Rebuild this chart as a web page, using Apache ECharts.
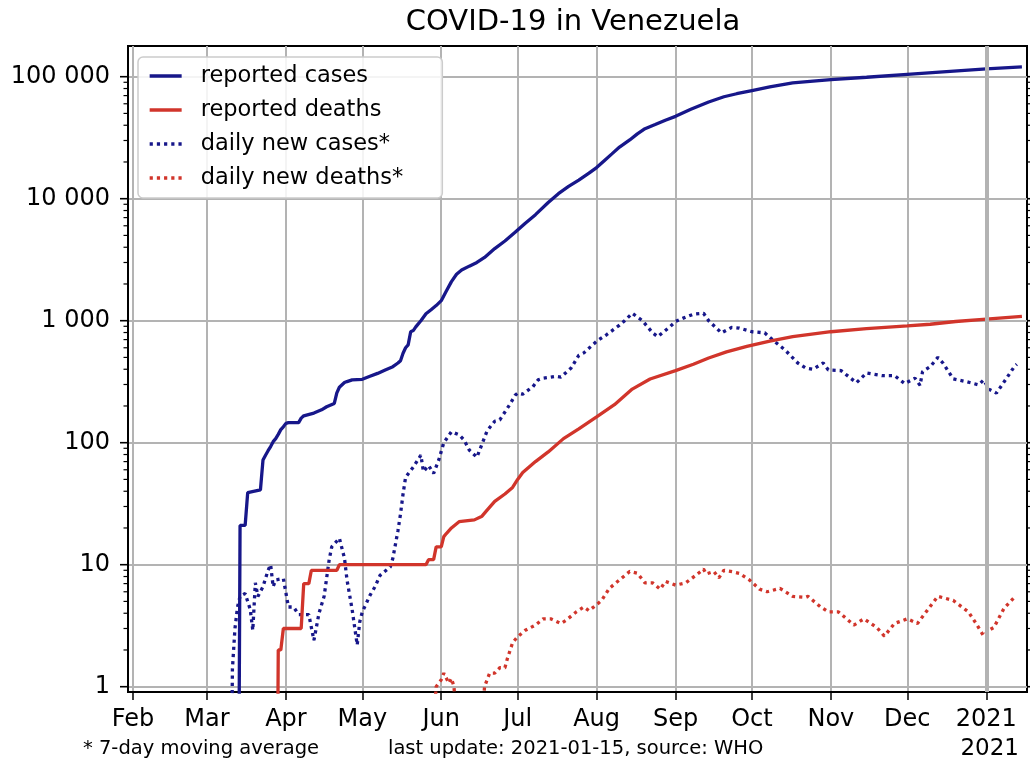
<!DOCTYPE html>
<html><head><meta charset="utf-8">
<script src="https://cdn.jsdelivr.net/npm/echarts@6/dist/echarts.min.js"></script>
<style>html,body{margin:0;padding:0;background:#fff}#c{width:1030px;height:762px}</style>
</head><body><div id="c"></div>
<script>
const FONT = 'DejaVu Sans';
const BLUE = '#17178a';
const RED = '#d1352b';
const GRID = '#b3b3b3';

const xStart = '2020-01-30';
const xEnd = '2021-01-17';
const monthStarts = ['2020-02-01','2020-03-01','2020-04-01','2020-05-01','2020-06-01','2020-07-01','2020-08-01','2020-09-01','2020-10-01','2020-11-01','2020-12-01','2021-01-01'];
const monthLabels = ['Feb','Mar','Apr','May','Jun','Jul','Aug','Sep','Oct','Nov','Dec','2021'];
const yMajorTicks = [1,10,100,1000,10000,100000];
const yTickLabels = ['1','10','100','1 000','10 000','100 000'];
const yMinorTicks = [2,3,4,5,6,7,8,9,20,30,40,50,60,70,80,90,200,300,400,500,600,700,800,900,2000,3000,4000,5000,6000,7000,8000,9000,20000,30000,40000,50000,60000,70000,80000,90000];

const reportedCases = [
['2020-03-13',0.001],['2020-03-14',21],['2020-03-16',21],['2020-03-17',39],['2020-03-22',41],['2020-03-23',72],['2020-03-24',79],['2020-03-25',86],['2020-03-26',93],['2020-03-27',102],['2020-03-28',108],['2020-03-29',117],['2020-03-30',128],['2020-03-31',135],['2020-04-01',144],['2020-04-02',146],['2020-04-06',146],['2020-04-07',159],['2020-04-08',166],['2020-04-12',175],['2020-04-15',186],['2020-04-17',197],['2020-04-20',210],['2020-04-21',256],['2020-04-22',285],['2020-04-24',311],['2020-04-25',317],['2020-04-27',327],['2020-05-01',331],['2020-05-04',350],['2020-05-07',370],['2020-05-10',395],['2020-05-13',420],['2020-05-15',450],['2020-05-16',470],['2020-05-17',541],['2020-05-18',600],['2020-05-19',634],['2020-05-20',812],['2020-05-21',830],['2020-05-22',890],['2020-05-24',1000],['2020-05-26',1140],['2020-05-28',1230],['2020-05-30',1330],['2020-06-01',1460],['2020-06-03',1750],['2020-06-05',2090],['2020-06-07',2400],['2020-06-09',2600],['2020-06-12',2800],['2020-06-15',3000],['2020-06-18',3300],['2020-06-22',3900],['2020-06-26',4500],['2020-06-30',5300],['2020-07-04',6300],['2020-07-08',7400],['2020-07-13',9300],['2020-07-17',11000],['2020-07-21',12600],['2020-07-25',14200],['2020-07-29',16200],['2020-08-01',18000],['2020-08-04',20500],['2020-08-07',23300],['2020-08-10',26500],['2020-08-14',30300],['2020-08-17',34000],['2020-08-20',37500],['2020-08-24',40500],['2020-08-28',44000],['2020-09-01',47300],['2020-09-07',54000],['2020-09-14',62000],['2020-09-20',68500],['2020-09-25',72500],['2020-10-01',77000],['2020-10-08',82500],['2020-10-17',89000],['2020-10-25',92000],['2020-11-01',94500],['2020-11-15',99000],['2020-12-01',104500],['2020-12-15',109500],['2021-01-01',116000],['2021-01-15',120500]
];

const reportedDeaths = [
['2020-03-28',0.001],['2020-03-29',2],['2020-03-30',2],['2020-03-31',3],['2020-04-07',3],['2020-04-08',7],['2020-04-10',7],['2020-04-11',9],['2020-04-21',9],['2020-04-22',10],['2020-05-26',10],['2020-05-27',11],['2020-05-29',11],['2020-05-30',14],['2020-06-01',14],['2020-06-02',17],['2020-06-03',18],['2020-06-05',20],['2020-06-08',22.5],['2020-06-14',23.3],['2020-06-17',25],['2020-06-19',28],['2020-06-22',33],['2020-06-26',38],['2020-06-29',43],['2020-07-01',50],['2020-07-03',57],['2020-07-08',70],['2020-07-13',84],['2020-07-19',108],['2020-07-25',130],['2020-08-01',163],['2020-08-08',205],['2020-08-15',275],['2020-08-22',333],['2020-09-01',390],['2020-09-08',440],['2020-09-14',495],['2020-09-21',555],['2020-09-29',615],['2020-10-08',680],['2020-10-17',740],['2020-11-01',812],['2020-11-15',860],['2020-12-01',907],['2020-12-10',935],['2020-12-20',985],['2021-01-01',1030],['2021-01-15',1085]
];

const dailyCases = [
['2020-03-10',0.01],['2020-03-11',1.4],['2020-03-12',3],['2020-03-13',4.5],['2020-03-14',5.5],['2020-03-16',5.8],['2020-03-18',4.3],['2020-03-19',2.9],['2020-03-20',7.1],['2020-03-21',5.5],['2020-03-23',6.6],['2020-03-25',9],['2020-03-26',10],['2020-03-27',6.6],['2020-03-28',7.5],['2020-03-31',7.7],['2020-04-02',4.5],['2020-04-04',4.5],['2020-04-06',3.9],['2020-04-10',3.9],['2020-04-12',2.4],['2020-04-14',4],['2020-04-16',5.5],['2020-04-18',11],['2020-04-19',14],['2020-04-22',16.5],['2020-04-24',11.3],['2020-04-25',7.5],['2020-04-27',4.3],['2020-04-29',2.2],['2020-04-30',3.4],['2020-05-01',4.1],['2020-05-04',5.6],['2020-05-06',6.6],['2020-05-08',8.2],['2020-05-12',9.6],['2020-05-13',11.3],['2020-05-15',19],['2020-05-16',26],['2020-05-17',38],['2020-05-18',52],['2020-05-21',63],['2020-05-24',79],['2020-05-25',58],['2020-05-27',65],['2020-05-29',56],['2020-05-31',72],['2020-06-02',100],['2020-06-05',123],['2020-06-08',116],['2020-06-10',105],['2020-06-12',87],['2020-06-15',76],['2020-06-19',125],['2020-06-22',150],['2020-06-24',154],['2020-06-28',207],['2020-06-30',245],['2020-07-01',255],['2020-07-03',250],['2020-07-07',288],['2020-07-09',327],['2020-07-11',338],['2020-07-16',350],['2020-07-18',345],['2020-07-22',410],['2020-07-25',520],['2020-07-27',545],['2020-08-01',678],['2020-08-05',770],['2020-08-10',920],['2020-08-12',1000],['2020-08-15',1150],['2020-08-19',1000],['2020-08-23',795],['2020-08-25',740],['2020-08-30',900],['2020-09-01',985],['2020-09-04',1050],['2020-09-08',1130],['2020-09-12',1150],['2020-09-14',1000],['2020-09-19',795],['2020-09-23',880],['2020-09-26',870],['2020-10-01',812],['2020-10-06',795],['2020-10-09',700],['2020-10-14',575],['2020-10-19',450],['2020-10-22',410],['2020-10-25',400],['2020-10-29',450],['2020-10-31',395],['2020-11-05',390],['2020-11-11',310],['2020-11-15',373],['2020-11-21',355],['2020-11-26',355],['2020-11-30',305],['2020-12-04',338],['2020-12-06',295],['2020-12-07',383],['2020-12-10',420],['2020-12-13',500],['2020-12-15',450],['2020-12-19',334],['2020-12-24',317],['2020-12-29',298],['2020-12-31',327],['2021-01-02',275],['2021-01-05',255],['2021-01-09',338],['2021-01-12',420],['2021-01-13',440]
];

const dailyDeaths = [
['2020-05-29',0.5],['2020-05-30',1],['2020-06-01',1.14],['2020-06-02',1.29],['2020-06-04',1.07],['2020-06-05',1.17],['2020-06-06',1],['2020-06-07',0.5],['2020-06-17',0.5],['2020-06-18',1],['2020-06-20',1.29],['2020-06-22',1.29],['2020-06-24',1.43],['2020-06-26',1.43],['2020-06-27',1.71],['2020-06-29',2.29],['2020-07-01',2.57],['2020-07-04',2.9],['2020-07-08',3.2],['2020-07-11',3.6],['2020-07-14',3.6],['2020-07-18',3.3],['2020-07-20',3.5],['2020-07-24',4.1],['2020-07-27',4.5],['2020-07-29',4.2],['2020-08-01',4.7],['2020-08-03',5.1],['2020-08-06',6.4],['2020-08-10',7.5],['2020-08-14',8.8],['2020-08-17',8.5],['2020-08-20',7.1],['2020-08-23',7.1],['2020-08-26',6.3],['2020-08-28',7.3],['2020-09-01',6.8],['2020-09-05',7.1],['2020-09-09',8.2],['2020-09-12',9.2],['2020-09-13',8.4],['2020-09-16',8.8],['2020-09-18',7.8],['2020-09-20',9],['2020-09-24',8.7],['2020-09-26',8.5],['2020-09-30',7.5],['2020-10-04',6.3],['2020-10-07',6.0],['2020-10-12',6.4],['2020-10-17',5.5],['2020-10-22',5.4],['2020-10-23',5.5],['2020-10-28',4.5],['2020-10-31',4.1],['2020-11-04',4.1],['2020-11-10',3.2],['2020-11-14',3.6],['2020-11-19',3.06],['2020-11-22',2.6],['2020-11-26',3.3],['2020-12-01',3.6],['2020-12-05',3.3],['2020-12-08',4.0],['2020-12-13',5.5],['2020-12-19',5.1],['2020-12-25',4.1],['2020-12-28',3.3],['2020-12-31',2.6],['2021-01-02',2.9],['2021-01-04',3.06],['2021-01-08',4.4],['2021-01-12',5.4]
];

function buildDays(a, b) {
  const out = [];
  let t = Date.parse(a + 'T00:00:00Z');
  const e = Date.parse(b + 'T00:00:00Z');
  while (t <= e) { out.push(new Date(t).toISOString().slice(0, 10)); t += 86400000; }
  return out;
}
const days = buildDays(xStart, xEnd);
const isMonthStart = (i, v) => monthStarts.indexOf(v) >= 0;

function yLabel(v) {
  for (let i = 0; i < yMajorTicks.length; i++) {
    if (Math.abs(v - yMajorTicks[i]) < yMajorTicks[i] * 1e-6) return yTickLabels[i];
  }
  return '';
}

const tickData = yMajorTicks.map(v => [0, v, 1]).concat(yMinorTicks.map(v => [0, v, 0]));
const LW = 3.3;
const DOT = [3.2, 4];

const chart = echarts.init(document.getElementById('c'), null, {renderer: 'canvas'});
chart.setOption({
  animation: false,
  backgroundColor: '#fff',
  textStyle: {fontFamily: FONT},
  grid: {left: 128, right: 3, top: 46, bottom: 70, show: true, borderColor: '#000', borderWidth: 2, backgroundColor: 'transparent'},
  legend: {
    data: ['reported cases', 'reported deaths', 'daily new cases*', 'daily new deaths*'],
    orient: 'vertical', left: 138, top: 57,
    itemWidth: 32, itemHeight: 14, itemGap: 8,
    padding: [6, 39, 7, 10],
    itemStyle: {opacity: 0},
    lineStyle: {width: LW},
    backgroundColor: 'rgba(255,255,255,0.85)', borderColor: '#cccccc', borderWidth: 1.5, borderRadius: 5,
    textStyle: {fontFamily: FONT, fontSize: 22.5, color: '#000', lineHeight: 26, padding: [0, 0, 0, 14]},
    selectedMode: false
  },
  xAxis: {
    type: 'category', data: days, boundaryGap: false,
    axisLine: {show: true, lineStyle: {color: '#000', width: 2}},
    axisTick: {show: true, interval: isMonthStart, length: 8, lineStyle: {color: '#000', width: 1.5}},
    axisLabel: {interval: isMonthStart, formatter: v => monthLabels[monthStarts.indexOf(v)], fontFamily: FONT, fontSize: 24, color: '#000', margin: 16},
    splitLine: {show: true, interval: isMonthStart, lineStyle: {color: GRID, width: 2}}
  },
  yAxis: {
    type: 'log', logBase: 10, min: 0.9048, max: 178500,
    axisLine: {show: true, lineStyle: {color: '#000', width: 2}},
    axisTick: {show: false},
    axisLabel: {formatter: yLabel, fontFamily: FONT, fontSize: 24, color: '#000', margin: 18},
    splitLine: {show: true, showMinLine: false, showMaxLine: false, lineStyle: {color: GRID, width: 2}}
  },
  graphic: [
    {type: 'text', x: 573, y: 22, style: {text: 'COVID-19 in Venezuela', fill: '#000', font: '29px "DejaVu Sans"', align: 'center', verticalAlign: 'middle', textAlign: 'center', textVerticalAlign: 'middle'}},
    {type: 'text', x: 83, y: 749, style: {text: '* 7-day moving average', fill: '#000', font: '19.5px "DejaVu Sans"', align: 'left', verticalAlign: 'middle', textAlign: 'left', textVerticalAlign: 'middle'}},
    {type: 'text', x: 388, y: 749, style: {text: 'last update: 2021-01-15, source: WHO', fill: '#000', font: '19.5px "DejaVu Sans"', align: 'left', verticalAlign: 'middle', textAlign: 'left', textVerticalAlign: 'middle'}},
    {type: 'text', x: 1019, y: 749, style: {text: '2021', fill: '#000', font: '23px "DejaVu Sans"', align: 'right', verticalAlign: 'middle', textAlign: 'right', textVerticalAlign: 'middle'}}
  ],
  series: [
    {
      name: 'jan-grid', type: 'line', data: [], z: 1, silent: true,
      markLine: {silent: true, symbol: 'none', label: {show: false}, lineStyle: {color: GRID, width: 4, type: 'solid'}, data: [{xAxis: '2021-01-01'}]}
    },
    {
      name: 'yticks', type: 'custom', data: tickData, encode: {x: 0, y: 1}, silent: true, z: 5, clip: false,
      renderItem: function (params, api) {
        const cs = params.coordSys;
        const y = api.coord([0, api.value(1)])[1];
        const len = api.value(2) ? 8 : 4.5;
        const w = api.value(2) ? 1.6 : 1.2;
        return {type: 'group', children: [
          {type: 'line', shape: {x1: cs.x - len, y1: y, x2: cs.x, y2: y}, style: {stroke: '#000', lineWidth: w}},
          {type: 'line', shape: {x1: cs.x + cs.width, y1: y, x2: cs.x + cs.width + len, y2: y}, style: {stroke: '#000', lineWidth: w}}
        ]};
      }
    },
    {name: 'reported cases', type: 'line', data: reportedCases, symbol: 'none', showSymbol: false, z: 4,
      lineStyle: {color: BLUE, width: LW}, itemStyle: {color: BLUE}},
    {name: 'reported deaths', type: 'line', data: reportedDeaths, symbol: 'none', showSymbol: false, z: 4,
      lineStyle: {color: RED, width: LW}, itemStyle: {color: RED}},
    {name: 'daily new cases*', type: 'line', data: dailyCases, symbol: 'none', showSymbol: false, z: 3,
      lineStyle: {color: BLUE, width: LW, type: DOT, cap: 'butt'}, itemStyle: {color: BLUE}},
    {name: 'daily new deaths*', type: 'line', data: dailyDeaths, symbol: 'none', showSymbol: false, z: 3,
      lineStyle: {color: RED, width: LW, type: DOT, cap: 'butt'}, itemStyle: {color: RED}}
  ]
});
</script></body></html>
